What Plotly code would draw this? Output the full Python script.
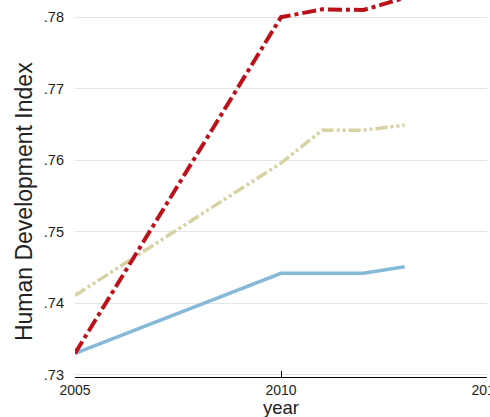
import plotly.graph_objects as go

years = [2005, 2010, 2011, 2012, 2013]
red_vals = [0.733, 0.780, 0.7811, 0.7810, 0.7827]
beige_vals = [0.7411, 0.7596, 0.7642, 0.7642, 0.7649]
blue_vals = [0.733, 0.7442, 0.7442, 0.7442, 0.7451]
y_ticks = [0.73, 0.74, 0.75, 0.76, 0.77, 0.78]
y_tick_text = [".73", ".74", ".75", ".76", ".77", ".78"]
x_ticks = [2005, 2010, 2015]

fig = go.Figure()
fig.add_trace(go.Scatter(x=years, y=blue_vals, mode="lines",
                         line=dict(color="#86b9d8", width=3.5)))
fig.add_trace(go.Scatter(x=years, y=beige_vals, mode="lines",
                         line=dict(color="#d6d2a4", width=3.5, dash="12px,3px,3px,3px,3px,3px")))
fig.add_trace(go.Scatter(x=years, y=red_vals, mode="lines",
                         line=dict(color="#bb1219", width=4, dash="14px,4px,4px,4px")))

fig.update_layout(
    width=490, height=417,
    margin=dict(l=75, r=3, t=0, b=40),
    paper_bgcolor="white", plot_bgcolor="white",
    showlegend=False,
    font=dict(family="Liberation Sans, Arial, sans-serif", color="#222", size=14.5),
    xaxis=dict(range=[2005, 2015], tickvals=x_ticks, ticktext=[str(t) for t in x_ticks],
               showgrid=False, zeroline=False, showline=True, linecolor="black", linewidth=1,
               ticks="inside", ticklen=6, tickcolor="black", automargin=False,
               ticklabeloverflow="allow", ticklabelstandoff=0, tickfont=dict(size=14)),
    yaxis=dict(range=[0.7297, 0.7824], tickvals=y_ticks, ticktext=y_tick_text,
               showgrid=True, gridcolor="#e4e4e4", gridwidth=1, zeroline=False, showline=False,
               ticks="", ticklabelstandoff=10, automargin=False),
    annotations=[
        dict(text="year", xref="paper", yref="paper", x=0.5, y=0,
             yshift=-18, yanchor="top", showarrow=False, font=dict(size=18.5)),
        dict(text="Human Development Index", xref="paper", yref="paper", x=0, y=0.464,
             xshift=-51, xanchor="center", yanchor="middle", textangle=-90,
             showarrow=False, font=dict(size=23)),
    ],
)
fig.write_html("out.html", config={"displayModeBar": False},
               post_script="document.body.style.margin='0';")
